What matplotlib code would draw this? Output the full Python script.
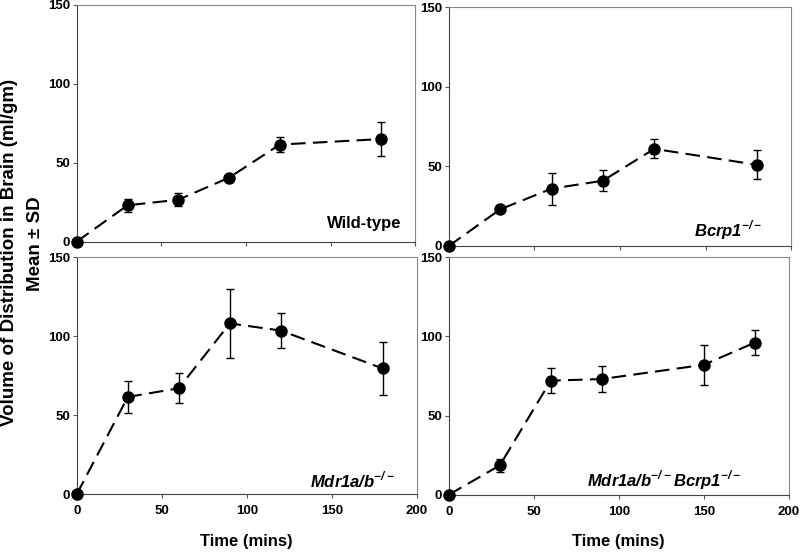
import numpy as np
import matplotlib.pyplot as plt

plt.rcParams['font.family'] = ['Liberation Sans', 'DejaVu Sans']
plt.rcParams['font.weight'] = 'bold'
plt.rcParams['mathtext.fontset'] = 'custom'
plt.rcParams['mathtext.bf'] = 'Liberation Sans:italic:bold'
plt.rcParams['mathtext.rm'] = 'Liberation Sans:bold'

# time points (mins)
t_wt = [0, 30, 60, 90, 120, 180]
t_bcrp = [0, 30, 60, 90, 120, 180]
t_mdr = [0, 30, 60, 90, 120, 180]
t_tko = [0, 30, 60, 90, 150, 180]

# mean and SD of brain Vd (ml/gm)
wt_mean = [0, 23, 26.5, 40.5, 61.5, 65]
wt_sd = [0, 4, 4, 2, 4.7, 10.5]
bcrp_mean = [0, 23, 36, 41, 61, 51]
bcrp_sd = [0, 1.5, 10, 6.5, 6, 9]
mdr_mean = [0, 61.5, 67, 108, 103.5, 79.5]
mdr_sd = [0, 10, 9.5, 21.8, 11, 16.6]
tko_mean = [0, 18.5, 72, 73, 82, 96]
tko_sd = [0, 4.3, 8, 8, 12.6, 8]

labels = ['Wild-type', r'$\mathbf{Bcrp1}^{\mathbf{-/-}}$',
          r'$\mathbf{Mdr1a/b}^{\mathbf{-/-}}$',
          r'$\mathbf{Mdr1a/b}^{\mathbf{-/-}}\mathbf{Bcrp1}^{\mathbf{-/-}}$']

fig = plt.figure(figsize=(8, 5.54), dpi=100)
rects = [[0.096, 0.564, 0.423, 0.427],
         [0.561, 0.556, 0.428, 0.431],
         [0.096, 0.108, 0.425, 0.428],
         [0.561, 0.107, 0.425, 0.429]]
data = [(t_wt, wt_mean, wt_sd), (t_bcrp, bcrp_mean, bcrp_sd),
        (t_mdr, mdr_mean, mdr_sd), (t_tko, tko_mean, tko_sd)]
lab_pos = [(0.96, 0.075), (0.915, 0.067), (0.935, 0.06), (0.86, 0.063)]

for i, (r, (t, m, s)) in enumerate(zip(rects, data)):
    ax = fig.add_axes(r)
    ax.errorbar(t, m, yerr=s, fmt='none', ecolor='black', elinewidth=1,
                capsize=3, capthick=1, clip_on=False)
    ax.plot(t, m, color='black', linestyle=(0, (7, 3.5)), linewidth=1.5,
             marker='o', markersize=8, clip_on=False, zorder=3)
    ax.set_xlim(0, 200)
    ax.set_ylim(0, 150)
    ax.set_xticks([0, 50, 100, 150, 200])
    ax.set_yticks([0, 50, 100, 150])
    ax.tick_params(direction='out', length=3, width=0.8, labelsize=9.5,
                   color='#555555', pad=2)
    ax.tick_params(axis='x', pad=5)
    for side in ['top', 'right']:
        ax.spines[side].set_color('#888888')
    for side in ['left', 'bottom']:
        ax.spines[side].set_color('#444444')
    if i < 2:
        ax.set_xticklabels([])
    else:
        ax.set_xlabel('Time (mins)', fontsize=12, fontweight='bold', labelpad=12)
    ax.text(lab_pos[i][0], lab_pos[i][1], labels[i], transform=ax.transAxes,
            ha='right', va='center', fontsize=12, fontweight='bold')

fig.text(0.012, 0.545, 'Volume of Distribution in Brain (ml/gm)', rotation=90,
         ha='center', va='center', fontsize=13.5, fontweight='bold')
fig.text(0.045, 0.56, 'Mean \u00b1 SD', rotation=90,
         ha='center', va='center', fontsize=13.5, fontweight='bold')

fig.savefig('out.png', dpi=100)
